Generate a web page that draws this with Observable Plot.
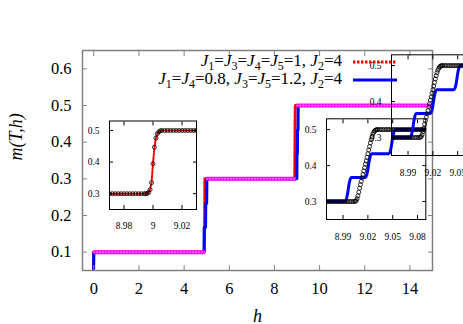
<!DOCTYPE html>
<html><head><meta charset="utf-8">
<script src="https://cdn.jsdelivr.net/npm/d3@7"></script>
<script src="https://cdn.jsdelivr.net/npm/@observablehq/plot@0.6"></script>
<style>
html,body{margin:0;padding:0;background:#fff;overflow:hidden;}
#chart{position:relative;width:463px;height:324px;overflow:hidden;background:#fff;}
#chart svg{position:absolute;}
</style></head><body><div id="chart"></div>
<script>
// ---- main plot data ----
const mainXTicks = [0, 2, 4, 6, 8, 10, 12, 14];
const mainXLabels = ["0", "2", "4", "6", "8", "10", "12", "14"];
const mainYTicks = [0.1, 0.2, 0.3, 0.4, 0.5, 0.6];
const mainYLabels = ["0.1", "0.2", "0.3", "0.4", "0.5", "0.6"];

const hRed = [-0.02, 0, 4.9, 4.92, 8.9, 8.92, 15];
const mRed = [0, 0.1, 0.1, 0.3, 0.3, 0.5, 0.5];

const hBlue = [-0.02, 0, 4.88, 4.89, 4.95, 4.96, 5.0, 5.01, 8.993, 8.999, 9.017, 9.023, 9.047, 9.053, 15];
const mBlue = [0, 0.1, 0.1, 0.167, 0.167, 0.233, 0.233, 0.3, 0.3, 0.367, 0.367, 0.433, 0.433, 0.5, 0.5];

const magLevel = [0.1, 0.3, 0.5];
const magStart = [0, 5.0, 9.0];
const magEnd = [4.95, 8.97, 15];

const legendLabels = ["J1=J3=J4=J5=1, J2=4", "J1=J4=0.8, J3=J5=1.2, J2=4"];
const legendColors = ["red", "#0000ff"];
const legendDash = ["2.5,1.5", null];

// ---- inset data ----
const insetYTicks = [0.3, 0.4, 0.5];
const insetYLabels = ["0.3", "0.4", "0.5"];
const leftXTicks = [8.98, 9.0, 9.02];
const leftXLabels = ["8.98", "9", "9.02"];
const rightXTicks = [8.99, 9.02, 9.05, 9.08];
const rightXLabels = ["8.99", "9.02", "9.05", "9.08"];

const hL = [8.970, 8.972, 8.974, 8.976, 8.978, 8.980, 8.982, 8.984, 8.986, 8.988, 8.990, 8.992, 8.994,
  8.995, 8.996, 8.997, 8.998, 8.999, 9.000, 9.001, 9.002, 9.003, 9.004, 9.005,
  9.006, 9.008, 9.010, 9.012, 9.014, 9.016, 9.018, 9.020, 9.022, 9.024, 9.026, 9.028, 9.030];
const mL = [0.3, 0.3, 0.3, 0.3, 0.3, 0.3, 0.3, 0.3, 0.3, 0.3, 0.3, 0.3, 0.3,
  0.300, 0.301, 0.304, 0.313, 0.335, 0.395, 0.447, 0.476, 0.490, 0.496, 0.499,
  0.5, 0.5, 0.5, 0.5, 0.5, 0.5, 0.5, 0.5, 0.5, 0.5, 0.5, 0.5, 0.5];

const hR = [8.970, 8.972, 8.974, 8.976, 8.978, 8.980, 8.982, 8.984, 8.986, 8.988, 8.990, 8.992, 8.994, 8.996, 8.998, 9.000, 9.002, 9.004,
  9.005, 9.006, 9.007, 9.008, 9.009, 9.010, 9.011, 9.012, 9.013, 9.014, 9.015, 9.016, 9.017, 9.018, 9.019, 9.020,
  9.021, 9.022, 9.023, 9.024, 9.025, 9.026, 9.027, 9.028, 9.029, 9.030, 9.031, 9.032,
  9.034, 9.036, 9.038, 9.040, 9.042, 9.044, 9.046, 9.048, 9.050, 9.052, 9.054, 9.056, 9.058, 9.060, 9.062,
  9.064, 9.066, 9.068, 9.070, 9.072, 9.074, 9.076, 9.078, 9.080, 9.082, 9.084, 9.086, 9.088, 9.090];
const mR = [0.3, 0.3, 0.3, 0.3, 0.3, 0.3, 0.3, 0.3, 0.3, 0.3, 0.3, 0.3, 0.3, 0.3, 0.3, 0.3, 0.3, 0.3,
  0.301, 0.303, 0.308, 0.316, 0.326, 0.337, 0.347, 0.356, 0.366, 0.375, 0.385, 0.394, 0.404, 0.413, 0.423, 0.433,
  0.443, 0.453, 0.463, 0.472, 0.480, 0.487, 0.492, 0.496, 0.498, 0.499, 0.5, 0.5,
  0.5, 0.5, 0.5, 0.5, 0.5, 0.5, 0.5, 0.5, 0.5, 0.5, 0.5, 0.5, 0.5, 0.5, 0.5,
  0.5, 0.5, 0.5, 0.5, 0.5, 0.5, 0.5, 0.5, 0.5, 0.5, 0.5, 0.5, 0.5, 0.5];

const hB = [8.970, 8.9925, 8.9940, 8.9955, 8.9970, 8.9985, 9.0000, 9.0170, 9.0185, 9.0200, 9.0215, 9.0230, 9.0245,
  9.0455, 9.0470, 9.0485, 9.0500, 9.0515, 9.0530, 9.090];
const mB = [0.300, 0.300, 0.306, 0.322, 0.345, 0.361, 0.367, 0.367, 0.373, 0.389, 0.411, 0.427, 0.433,
  0.433, 0.439, 0.455, 0.478, 0.494, 0.500, 0.500];

// ---- helpers ----
const fmt = (ticks, labels) => d => labels[ticks.indexOf(d)];
const blank = () => "";
const chart = document.getElementById("chart");

function place(svg, left, top) {
  svg.style.left = left + "px";
  svg.style.top = top + "px";
  chart.appendChild(svg);
}

// ---- main plot ----
const main = Plot.plot({
  width: 463, height: 324,
  marginLeft: 82, marginRight: 31, marginTop: 50, marginBottom: 54,
  x: {domain: [-0.5, 15]},
  y: {domain: [0.05, 0.65]},
  style: {background: "transparent", overflow: "visible", fontFamily: "Liberation Serif", fontSize: "16.5px", color: "black", maxWidth: "none"},
  marks: [
    Plot.line(mRed, {x: hRed, y: mRed, stroke: "red", strokeWidth: 3, strokeDasharray: "2.5,1.5", clip: true}),
    Plot.line(mBlue, {x: hBlue, y: mBlue, stroke: "#0000ff", strokeWidth: 3, clip: true}),
    Plot.ruleY(magLevel, {y: magLevel, x1: magStart, x2: magEnd, stroke: "#ff00ff", strokeWidth: 4, clip: true}),
    Plot.ruleY(magLevel, {y: magLevel, x1: magStart, x2: magEnd, stroke: "#ff88ff", strokeWidth: 1.5, strokeDasharray: "1.5,1.5", clip: true}),
    Plot.frame({stroke: "#808080", strokeWidth: 1.5}),
    Plot.axisX(mainXTicks, {anchor: "bottom", tickSize: -5, tickPadding: 17, tickFormat: fmt(mainXTicks, mainXLabels), stroke: "#808080", fill: "black", label: null}),
    Plot.axisX(mainXTicks, {anchor: "top", tickSize: -5, tickFormat: blank, stroke: "#808080", label: null}),
    Plot.axisY(mainYTicks, {anchor: "left", tickSize: -5, tickPadding: 16, tickFormat: fmt(mainYTicks, mainYLabels), stroke: "#808080", fill: "black", label: null}),
    Plot.axisY(mainYTicks, {anchor: "right", tickSize: -5, tickFormat: blank, stroke: "#808080", label: null}),
    Plot.text(["h"], {text: d => d, frameAnchor: "bottom", dy: 51, fontStyle: "italic", fontSize: 18}),
    Plot.text(["m(T,h)"], {text: d => d, frameAnchor: "left", dx: -66, rotate: -90, fontStyle: "italic", fontSize: 18})
  ]
});
place(main, 0, 0);

// ---- insets ----
function inset({xDomain, xTicks, xLabels, width, height, mL: ml, mR: mr, mT: mt, mB: mb, xPad, marks}) {
  return Plot.plot({
    width, height, marginLeft: ml, marginRight: mr, marginTop: mt, marginBottom: mb,
    x: {domain: xDomain},
    y: {domain: [0.25, 0.53]},
    style: {background: "transparent", overflow: "visible", fontFamily: "Liberation Serif", fontSize: "9.5px", color: "black", maxWidth: "none"},
    marks: [
      ...marks,
      Plot.frame({stroke: "black", strokeWidth: 1}),
      Plot.axisX(xTicks, {anchor: "bottom", tickSize: -4, tickPadding: xPad, tickFormat: fmt(xTicks, xLabels), label: null}),
      Plot.axisX(xTicks, {anchor: "top", tickSize: -4, tickFormat: blank, label: null}),
      Plot.axisY(insetYTicks, {anchor: "left", tickSize: -4, tickPadding: 14, tickFormat: fmt(insetYTicks, insetYLabels), label: null}),
      Plot.axisY(insetYTicks, {anchor: "right", tickSize: -4, tickFormat: blank, label: null})
    ]
  });
}

const leftInset = inset({
  xDomain: [8.97, 9.03], xTicks: leftXTicks, xLabels: leftXLabels,
  width: 140, height: 130, mL: 39, mR: 14, mT: 10.5, mB: 31, xPad: 17,
  marks: [
    Plot.line(mL, {x: hL, y: mL, stroke: "red", strokeWidth: 2, strokeDasharray: "3,1.5", clip: true}),
    Plot.dot(mL, {x: hL, y: mL, r: 2, stroke: "black", strokeWidth: 0.8, fill: "none", clip: true})
  ]
});
place(leftInset, 70, 110);

function rightMarks() {
  return [
    Plot.line(mB, {x: hB, y: mB, stroke: "#0000ff", strokeWidth: 3, curve: "monotone-x", clip: true}),
    Plot.dot(mR, {x: hR, y: mR, r: 2, stroke: "black", strokeWidth: 0.8, fill: "none", clip: true})
  ];
}
const rightOpts = {
  xDomain: [8.97, 9.09], xTicks: rightXTicks, xLabels: rightXLabels,
  width: 150, height: 150, mL: 36, mR: 14.7, mT: 10.3, mB: 39, xPad: 18
};
const rightInset = inset({...rightOpts, marks: rightMarks()});
place(rightInset, 290, 108);
const nestedInset = inset({...rightOpts, marks: rightMarks()});
place(nestedInset, 354.5, 44);

// ---- legend ----
const leg = d3.select(chart).append("svg")
  .attr("width", 463).attr("height", 324)
  .style("left", "0px").style("top", "0px");
legendLabels.forEach((lab, i) => {
  const base = 66 + 18 * i;
  const t = leg.append("text")
    .attr("x", 342).attr("y", base)
    .attr("text-anchor", "end")
    .attr("font-family", "Liberation Serif")
    .attr("font-size", 17)
    .attr("fill", "black");
  let shift = 0;
  lab.split(/(J\d)/).filter(s => s).forEach(p => {
    if (/^J\d$/.test(p)) {
      t.append("tspan").attr("font-style", "italic").attr("dy", -shift).text("J");
      t.append("tspan").attr("font-size", 12).attr("dy", 4).text(p[1]);
      shift = 4;
    } else {
      t.append("tspan").attr("dy", -shift).text(p);
      shift = 0;
    }
  });
  leg.append("line")
    .attr("x1", 353).attr("x2", 397)
    .attr("y1", base - 4).attr("y2", base - 4)
    .attr("stroke", legendColors[i]).attr("stroke-width", 3)
    .attr("stroke-dasharray", legendDash[i]);
});
</script></body></html>
